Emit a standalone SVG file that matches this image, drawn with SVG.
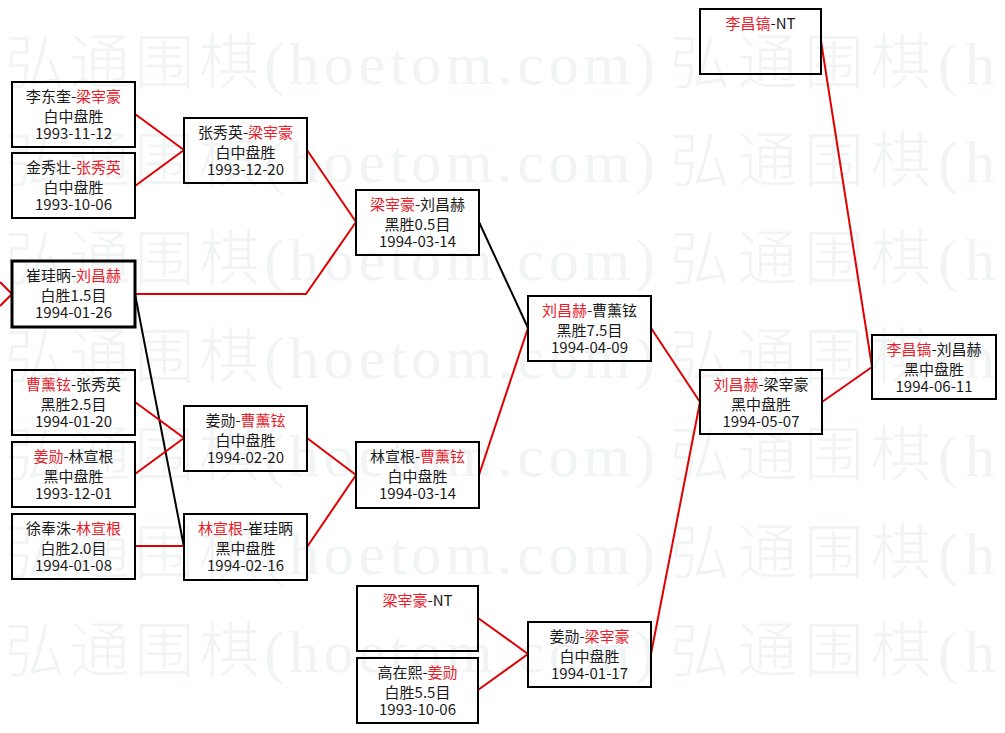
<svg xmlns="http://www.w3.org/2000/svg" width="1005" height="733" viewBox="0 0 1005 733">
<style>
.wm{font-family:"Liberation Serif","Noto Sans CJK SC",serif;font-size:60px;font-weight:300;fill:#f1f4f4}
.box{fill:none;stroke:#000;stroke-width:2}
.win{stroke:#000;stroke-width:3}
.t{font-family:"Noto Sans CJK SC","Liberation Sans",sans-serif;font-size:15px;fill:#1a1a1a;text-anchor:middle}
.r{fill:#e8202a}
.cr{stroke:#e00000;stroke-width:2;fill:none}
.cb{stroke:#000;stroke-width:2;fill:none}
</style>
<rect width="1005" height="733" fill="#fff"/>
<g id="watermark">
<text class="wm" x="5" y="84" textLength="650" lengthAdjust="spacing">弘通围棋(hoetom.com)</text>
<text class="wm" x="670" y="84" textLength="325" lengthAdjust="spacing">弘通围棋(h</text>
<text class="wm" x="5" y="182" textLength="650" lengthAdjust="spacing">弘通围棋(hoetom.com)</text>
<text class="wm" x="670" y="182" textLength="325" lengthAdjust="spacing">弘通围棋(h</text>
<text class="wm" x="5" y="280" textLength="650" lengthAdjust="spacing">弘通围棋(hoetom.com)</text>
<text class="wm" x="670" y="280" textLength="325" lengthAdjust="spacing">弘通围棋(h</text>
<text class="wm" x="5" y="378" textLength="650" lengthAdjust="spacing">弘通围棋(hoetom.com)</text>
<text class="wm" x="670" y="378" textLength="325" lengthAdjust="spacing">弘通围棋(h</text>
<text class="wm" x="5" y="476" textLength="650" lengthAdjust="spacing">弘通围棋(hoetom.com)</text>
<text class="wm" x="670" y="476" textLength="325" lengthAdjust="spacing">弘通围棋(h</text>
<text class="wm" x="5" y="574" textLength="650" lengthAdjust="spacing">弘通围棋(hoetom.com)</text>
<text class="wm" x="670" y="574" textLength="325" lengthAdjust="spacing">弘通围棋(h</text>
<text class="wm" x="5" y="672" textLength="650" lengthAdjust="spacing">弘通围棋(hoetom.com)</text>
<text class="wm" x="670" y="672" textLength="325" lengthAdjust="spacing">弘通围棋(h</text>
</g>
<g id="connectors">
<polyline class="cr" points="0,282 12,294 0,306"/>
<line class="cr" x1="135" y1="114" x2="184" y2="150"/>
<line class="cr" x1="135" y1="186" x2="184" y2="150"/>
<polyline class="cr" points="135,294 306,294 356,222"/>
<line class="cb" x1="135" y1="294" x2="184" y2="547"/>
<line class="cr" x1="135" y1="402" x2="184" y2="438"/>
<line class="cr" x1="135" y1="474" x2="184" y2="438"/>
<line class="cr" x1="135" y1="546" x2="184" y2="546"/>
<line class="cr" x1="307" y1="150" x2="356" y2="222"/>
<line class="cr" x1="307" y1="438" x2="356" y2="475"/>
<line class="cr" x1="307" y1="547" x2="356" y2="475"/>
<line class="cb" x1="479" y1="222" x2="528" y2="328"/>
<line class="cr" x1="479" y1="475" x2="528" y2="328"/>
<line class="cr" x1="478" y1="618" x2="528" y2="654"/>
<line class="cr" x1="478" y1="690" x2="528" y2="654"/>
<line class="cr" x1="651" y1="328" x2="700" y2="402"/>
<line class="cr" x1="651" y1="654" x2="700" y2="402"/>
<line class="cr" x1="822" y1="402" x2="872" y2="367"/>
<line class="cr" x1="821" y1="41" x2="872" y2="367"/>
</g>
<g id="nA"><rect class="box" x="12" y="82" width="123" height="65"/><text class="t" x="73.5" y="101.5">李东奎-<tspan class="r">梁宰豪</tspan></text><text class="t" x="73.5" y="121.5">白中盘胜</text><text class="t" x="73.5" y="139">1993-11-12</text></g>
<g id="nB"><rect class="box" x="12" y="153" width="123" height="65"/><text class="t" x="73.5" y="172.5">金秀壮-<tspan class="r">张秀英</tspan></text><text class="t" x="73.5" y="192.5">白中盘胜</text><text class="t" x="73.5" y="210">1993-10-06</text></g>
<g id="nC"><rect class="box win" x="12" y="261" width="123" height="66"/><text class="t" x="73.5" y="280.5">崔珪昞-<tspan class="r">刘昌赫</tspan></text><text class="t" x="73.5" y="300.5">白胜1.5目</text><text class="t" x="73.5" y="318">1994-01-26</text></g>
<g id="nD"><rect class="box" x="12" y="370" width="123" height="65"/><text class="t" x="73.5" y="389.5"><tspan class="r">曹薰铉</tspan>-张秀英</text><text class="t" x="73.5" y="409.5">黑胜2.5目</text><text class="t" x="73.5" y="427">1994-01-20</text></g>
<g id="nE"><rect class="box" x="12" y="442" width="123" height="65"/><text class="t" x="73.5" y="461.5"><tspan class="r">姜勋</tspan>-林宣根</text><text class="t" x="73.5" y="481.5">黑中盘胜</text><text class="t" x="73.5" y="499">1993-12-01</text></g>
<g id="nF"><rect class="box" x="12" y="514" width="123" height="65"/><text class="t" x="73.5" y="533.5">徐奉洙-<tspan class="r">林宣根</tspan></text><text class="t" x="73.5" y="553.5">白胜2.0目</text><text class="t" x="73.5" y="571">1994-01-08</text></g>
<g id="nG"><rect class="box" x="184" y="118" width="123" height="65"/><text class="t" x="245.5" y="137.5">张秀英-<tspan class="r">梁宰豪</tspan></text><text class="t" x="245.5" y="157.5">白中盘胜</text><text class="t" x="245.5" y="175">1993-12-20</text></g>
<g id="nH"><rect class="box" x="184" y="406" width="123" height="65"/><text class="t" x="245.5" y="425.5">姜勋-<tspan class="r">曹薰铉</tspan></text><text class="t" x="245.5" y="445.5">白中盘胜</text><text class="t" x="245.5" y="463">1994-02-20</text></g>
<g id="nI"><rect class="box" x="184" y="514" width="123" height="66"/><text class="t" x="245.5" y="533.5"><tspan class="r">林宣根</tspan>-崔珪昞</text><text class="t" x="245.5" y="553.5">黑中盘胜</text><text class="t" x="245.5" y="571">1994-02-16</text></g>
<g id="nJ"><rect class="box" x="356" y="190" width="123" height="65"/><text class="t" x="417.5" y="209.5"><tspan class="r">梁宰豪</tspan>-刘昌赫</text><text class="t" x="417.5" y="229.5">黑胜0.5目</text><text class="t" x="417.5" y="247">1994-03-14</text></g>
<g id="nK"><rect class="box" x="356" y="442" width="123" height="66"/><text class="t" x="417.5" y="461.5">林宣根-<tspan class="r">曹薰铉</tspan></text><text class="t" x="417.5" y="481.5">白中盘胜</text><text class="t" x="417.5" y="499">1994-03-14</text></g>
<g id="nL"><rect class="box" x="357" y="586" width="121" height="65"/><text class="t" x="417.5" y="605.5"><tspan class="r">梁宰豪</tspan>-NT</text></g>
<g id="nM"><rect class="box" x="357" y="658" width="121" height="65"/><text class="t" x="417.5" y="677.5">高在熙-<tspan class="r">姜勋</tspan></text><text class="t" x="417.5" y="697.5">白胜5.5目</text><text class="t" x="417.5" y="715">1993-10-06</text></g>
<g id="nN"><rect class="box" x="528" y="622" width="123" height="65"/><text class="t" x="589.5" y="641.5">姜勋-<tspan class="r">梁宰豪</tspan></text><text class="t" x="589.5" y="661.5">白中盘胜</text><text class="t" x="589.5" y="679">1994-01-17</text></g>
<g id="nO"><rect class="box" x="528" y="296" width="123" height="65"/><text class="t" x="589.5" y="315.5"><tspan class="r">刘昌赫</tspan>-曹薰铉</text><text class="t" x="589.5" y="335.5">黑胜7.5目</text><text class="t" x="589.5" y="353">1994-04-09</text></g>
<g id="nP"><rect class="box" x="700" y="370" width="122" height="64"/><text class="t" x="761" y="389.5"><tspan class="r">刘昌赫</tspan>-梁宰豪</text><text class="t" x="761" y="409.5">黑中盘胜</text><text class="t" x="761" y="427">1994-05-07</text></g>
<g id="nQ"><rect class="box" x="700" y="9" width="121" height="65"/><text class="t" x="760.5" y="28.5"><tspan class="r">李昌镐</tspan>-NT</text></g>
<g id="nR"><rect class="box" x="872" y="335" width="124" height="64"/><text class="t" x="934" y="354.5"><tspan class="r">李昌镐</tspan>-刘昌赫</text><text class="t" x="934" y="374.5">黑中盘胜</text><text class="t" x="934" y="392">1994-06-11</text></g>
</svg>
